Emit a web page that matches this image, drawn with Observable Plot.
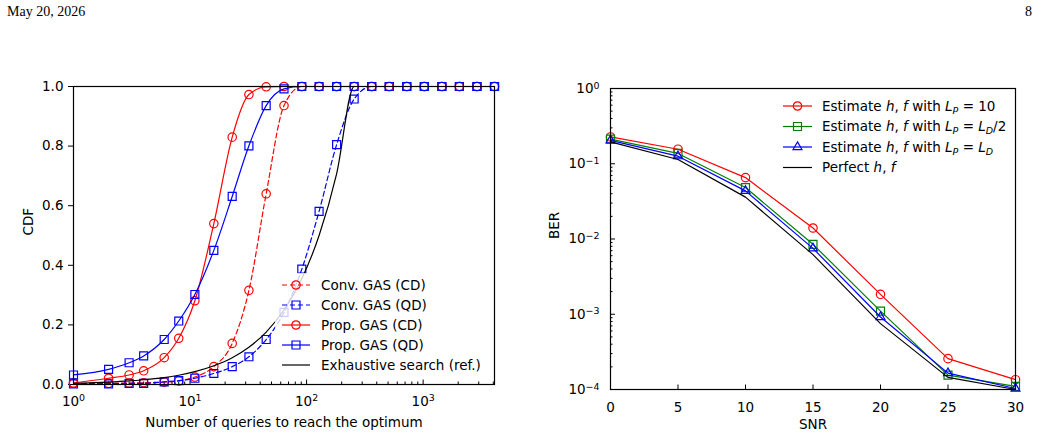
<!DOCTYPE html>
<html>
<head>
<meta charset="utf-8">
<script src="https://cdn.jsdelivr.net/npm/d3@7"></script>
<script src="https://cdn.jsdelivr.net/npm/@observablehq/plot@0.6"></script>
<style>
  body { margin: 0; background: #fff; }
  #page { position: relative; width: 1041px; height: 436px; overflow: hidden; font-family: "DejaVu Sans", sans-serif; }
  .hdr { position: absolute; top: 5px; font-family: "Liberation Serif", "Times New Roman", serif; font-size: 14px; line-height: 14px; color: #000; }
  .panel { position: absolute; top: 0; }
  .panel svg { overflow: visible; }
</style>
</head>
<body>
<div id="page">
  <div class="hdr" style="left:7px">May 20, 2026</div>
  <div class="hdr" style="right:9px">8</div>
  <div id="left" class="panel" style="left:0px"></div>
  <div id="right" class="panel" style="left:520px"></div>
</div>
<script>
// ---- CDF of the number of queries needed to reach the optimum ----
const queries    = [1, 2, 3, 4, 6, 8, 11, 16, 23, 32, 45, 64, 91, 128, 181, 256, 362, 512, 724, 1024, 1448, 2048, 2896, 4096];
const convCD     = [0.004, 0.004, 0.005, 0.006, 0.008, 0.012, 0.025, 0.060, 0.138, 0.316, 0.640, 0.936, 1, 1, 1, 1, 1, 1, 1, 1, 1, 1, 1, 1];
const convQD     = [0.002, 0.002, 0.004, 0.004, 0.009, 0.013, 0.021, 0.037, 0.060, 0.093, 0.151, 0.242, 0.387, 0.581, 0.805, 0.958, 1, 1, 1, 1, 1, 1, 1, 1];
const propCD     = [0.005, 0.021, 0.032, 0.046, 0.090, 0.155, 0.281, 0.540, 0.830, 0.973, 0.999, 1, 1, 1, 1, 1, 1, 1, 1, 1, 1, 1, 1, 1];
const propQD     = [0.032, 0.051, 0.073, 0.096, 0.151, 0.213, 0.302, 0.450, 0.631, 0.801, 0.936, 0.992, 1, 1, 1, 1, 1, 1, 1, 1, 1, 1, 1, 1];
const exhaustive = [0.004, 0.008, 0.012, 0.016, 0.023, 0.031, 0.043, 0.063, 0.090, 0.125, 0.176, 0.250, 0.355, 0.500, 0.707, 1, 1, 1, 1, 1, 1, 1, 1, 1];
const cdfTicks   = [0, 0.2, 0.4, 0.6, 0.8, 1.0];
const queryTicks = [1, 10, 100, 1000];

// ---- BER versus SNR ----
const snr        = [0, 5, 10, 15, 20, 25, 30];
const berLp10    = [0.227, 0.156, 0.0655, 0.0140, 0.00184, 2.57e-4, 1.35e-4];
const berLpHalf  = [0.212, 0.137, 0.0483, 0.0085, 0.00110, 1.55e-4, 1.10e-4];
const berLpFull  = [0.205, 0.126, 0.0436, 0.0075, 0.00092, 1.65e-4, 1.03e-4];
const berPerfect = [0.195, 0.114, 0.0360, 0.0062, 0.00075, 1.45e-4, 1.00e-4];
const snrTicks   = [0, 5, 10, 15, 20, 25, 30];
const berTicks   = [1, 0.1, 0.01, 0.001, 0.0001];

const FONT = '"DejaVu Sans", sans-serif';
const FS = 13.5;
const RED = "#ff0000", BLUE = "#0000ff", GREEN = "#008000", BLACK = "#000000";
const DASH = "5,3";

const cdfSeries = [
  {values: convCD,     color: RED,   dash: DASH, symbol: "circle", r: 4.2, parts: [["Conv. GAS (CD)"]]},
  {values: convQD,     color: BLUE,  dash: DASH, symbol: "square", r: 4.5, parts: [["Conv. GAS (QD)"]]},
  {values: propCD,     color: RED,   dash: null, symbol: "circle", r: 4.2, parts: [["Prop. GAS (CD)"]]},
  {values: propQD,     color: BLUE,  dash: null, symbol: "square", r: 4.5, parts: [["Prop. GAS (QD)"]]},
  {values: exhaustive, color: BLACK, dash: null, symbol: null,     r: 0,   parts: [["Exhaustive search (ref.)"]]}
];

const hf = [["Estimate "], ["h", "i"], [", "], ["f", "i"], [" with "], ["L", "i"], ["P", "sub"], [" = "]];
const berSeries = [
  {values: berLp10,    color: RED,   symbol: "circle",   r: 4.2, parts: [...hf, ["10"]]},
  {values: berLpHalf,  color: GREEN, symbol: "square",   r: 4.5, parts: [...hf, ["L", "i"], ["D", "sub"], ["/2"]]},
  {values: berLpFull,  color: BLUE,  symbol: "triangle", r: 3.3, parts: [...hf, ["L", "i"], ["D", "sub"]]},
  {values: berPerfect, color: BLACK, symbol: null,       r: 0,   parts: [["Perfect "], ["h", "i"], [", "], ["f", "i"]]}
];

// tick labels of the form 10^k, turned into a real superscript after rendering
const pow10 = d => "10^" + Math.round(Math.log10(d));
function superscriptTicks(svg) {
  d3.select(svg).selectAll("text").each(function () {
    const m = /^10\^(-?\d+)$/.exec(this.textContent);
    if (!m) return;
    const t = d3.select(this);
    t.text("10");
    t.append("tspan").attr("dy", "-0.45em").attr("font-size", "0.7em").text(m[1].replace("-", "\u2212"));
  });
}

// minor ticks at 2..9 × each decade inside a domain
function minorLogTicks(lo, hi) {
  const out = [];
  for (let e = Math.floor(Math.log10(lo)); e <= Math.ceil(Math.log10(hi)); ++e)
    for (let m = 2; m <= 9; ++m) {
      const v = m * Math.pow(10, e);
      if (v > lo && v < hi) out.push(v);
    }
  return out;
}

function seriesMarks(series, xs, curve) {
  const marks = [];
  for (const s of series) {
    const rows = xs.map((x, i) => ({x, y: s.values[i]}));
    marks.push(Plot.line(rows, {x: "x", y: "y", stroke: s.color, strokeWidth: 1.2,
      strokeDasharray: s.dash || undefined, curve}));
    if (s.symbol) marks.push(Plot.dot(rows, {x: "x", y: "y", symbol: s.symbol, r: s.r,
      stroke: s.color, strokeWidth: 1.2, fill: "none"}));
  }
  return marks;
}

const symbolOf = {circle: d3.symbolCircle, square: d3.symbolSquare, triangle: d3.symbolTriangle};

function drawLegend(svg, series, o) {
  const g = d3.select(svg).append("g").attr("font-family", FONT).attr("font-size", FS)
    .attr("text-anchor", "start");
  if (o.box) g.append("rect").attr("x", o.box[0]).attr("y", o.box[1])
    .attr("width", o.box[2]).attr("height", o.box[3]).attr("fill", "#fff").attr("fill-opacity", 0.8);
  series.forEach((s, i) => {
    const y = o.y0 + i * o.step;
    g.append("line").attr("x1", o.x0).attr("x2", o.x1).attr("y1", y).attr("y2", y)
      .attr("stroke", s.color).attr("stroke-width", 1.2).attr("stroke-dasharray", s.dash || null);
    if (s.symbol) g.append("path")
      .attr("d", d3.symbol(symbolOf[s.symbol], Math.PI * s.r * s.r)())
      .attr("transform", `translate(${(o.x0 + o.x1) / 2},${y})`)
      .attr("fill", "none").attr("stroke", s.color).attr("stroke-width", 1.2);
    const t = g.append("text").attr("x", o.xt).attr("y", y).attr("dy", "0.36em").attr("fill", "#000");
    let shift = 0;
    for (const [str, kind] of s.parts) {
      const ts = t.append("tspan").text(str);
      if (kind === "sub") {
        ts.attr("font-style", "italic").attr("font-size", 9.5).attr("dy", 3 - shift);
        shift = 3;
      } else {
        if (kind === "i") ts.attr("font-style", "italic");
        if (shift) { ts.attr("dy", -shift); shift = 0; }
      }
    }
  });
}

// ---- left panel ----
const left = Plot.plot({
  width: 520, height: 436,
  marginLeft: 73, marginRight: 26, marginTop: 86, marginBottom: 52,
  style: {fontFamily: FONT, fontSize: FS + "px", color: "#000", background: "transparent"},
  x: {type: "log", domain: [1, 4096]},
  y: {domain: [0, 1]},
  marks: [
    Plot.axisX(minorLogTicks(1, 4096), {tickSize: -2.5, tickFormat: () => "", label: null}),
    Plot.axisX(queryTicks, {tickSize: -4.5, tickPadding: 16, tickFormat: pow10, label: null}),
    Plot.axisY(cdfTicks, {tickSize: 5, tickPadding: 5, tickFormat: d3.format(".1f"), label: null}),
    ...seriesMarks(cdfSeries, queries, "monotone-x"),
    Plot.frame({stroke: "#000", strokeWidth: 1.2}),
    Plot.text(["Number of queries to reach the optimum"], {frameAnchor: "bottom", lineAnchor: "bottom", dy: 42, fontSize: FS}),
    Plot.text(["CDF"], {frameAnchor: "left", rotate: -90, dx: -45, fontSize: FS})
  ]
});
superscriptTicks(left);
drawLegend(left, cdfSeries, {box: [275, 273, 216, 105], x0: 282, x1: 310, xt: 321, y0: 285, step: 20});
document.getElementById("left").append(left);

// ---- right panel ----
const right = Plot.plot({
  width: 521, height: 436,
  marginLeft: 90, marginRight: 26, marginTop: 88, marginBottom: 47,
  style: {fontFamily: FONT, fontSize: FS + "px", color: "#000", background: "transparent"},
  x: {domain: [0, 30]},
  y: {type: "log", domain: [1e-4, 1]},
  marks: [
    Plot.axisX(snrTicks, {tickSize: -4.5, tickPadding: 17, tickFormat: d => String(d), label: null}),
    Plot.axisY(minorLogTicks(1e-4, 1), {tickSize: -2.5, tickFormat: () => "", label: null}),
    Plot.axisY(berTicks, {tickSize: -5, tickPadding: 16, tickFormat: pow10, label: null}),
    ...seriesMarks(berSeries, snr, "linear"),
    Plot.frame({stroke: "#000", strokeWidth: 1.2}),
    Plot.text(["SNR"], {frameAnchor: "bottom", lineAnchor: "bottom", dy: 39, fontSize: FS}),
    Plot.text(["BER"], {frameAnchor: "left", rotate: -90, dx: -56, fontSize: FS})
  ]
});
superscriptTicks(right);
drawLegend(right, berSeries, {x0: 263, x1: 292, xt: 302, y0: 106, step: 20.5});
document.getElementById("right").append(right);
</script>
</body>
</html>
